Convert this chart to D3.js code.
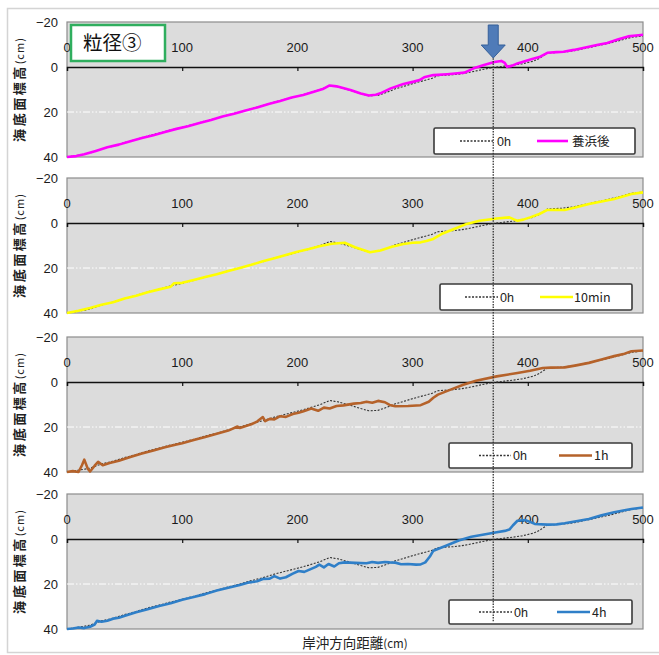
<!DOCTYPE html>
<html><head><meta charset="utf-8">
<script src="https://cdn.jsdelivr.net/npm/d3@7"></script>
<style>
body{margin:0;background:#fff;}
svg{display:block;font-family:"Liberation Sans",Arial,"Noto Sans CJK JP",sans-serif;}
</style></head>
<body><svg id="c" width="659" height="655"></svg>
<script>
// ---- data ----
const xTicks = [0,100,200,300,400,500];
const yTicks = [-20,0,20,40];
const panelSeriesNames = ["養浜後","10min","1h","4h"];
const seriesColors = ["#ff00ff","#ffff00","#b5622a","#2f7fc8"];

const initialX = [0,10,20,30,40,50,60,70,80,90,100,110,120,130,140,150,160,170,180,190,200,210,220,228,235,245,255,262,270,278,285,293,300,310,316,322,330,336,345,351,360,370,380,387,395,400,405,410,417,430,440,450,460,470,480,490,500];
const initialY = [40,39.2,38.3,36.4,35.2,33.6,32.2,30.6,29.4,28.0,26.8,25.5,24.0,22.8,21.3,20.0,18.5,17.2,15.6,14.3,13.0,11.6,10.0,8.2,8.8,10.2,11.8,12.8,12.6,11.2,9.7,8.5,7.4,6.0,5.2,3.9,3.6,3.4,2.8,2.2,1.2,0.2,-0.4,-0.8,-1.4,-2.0,-2.6,-3.8,-6.2,-6.6,-7.2,-8.3,-9.4,-10.5,-11.8,-13.2,-13.8];

const nourishX = [0,8,15,25,35,45,55,65,75,85,95,105,115,125,135,145,155,165,175,185,195,205,215,222,228,234,246,255,262,268,272,281,292,301,306,310,318,330,339,345,353,362,371,377,380,382,386,391,403,410,417,425,431,440,449,460,469,478,487,494,500];
const nourishY = [40,39.6,38.8,37.3,35.7,34.5,33.0,31.6,30.3,28.9,27.5,26.3,24.9,23.6,22.0,20.8,19.3,18.0,16.4,15.1,13.6,12.4,10.9,9.8,8.2,8.6,10.2,11.8,12.7,12.3,11.7,9.5,7.6,6.5,5.8,4.6,3.6,3.2,2.8,2.5,0.6,-0.9,-2.2,-2.7,-1.8,-0.1,-0.5,-1.6,-3.4,-4.4,-6.3,-6.6,-6.8,-7.6,-8.6,-9.8,-10.7,-12.2,-13.6,-14.0,-14.3];

const min10X = [0,10,20,30,40,50,60,70,80,90,93,100,110,120,130,140,150,160,170,180,190,200,210,220,230,241,250,263,272,282,292,300,307,312,318,325,336,347,358,373,384,388,391,396,402,410,417,425,432,442,453,464,475,484,490,500];
const min10Y = [40,39.0,37.8,36.3,35.2,33.6,32.3,30.8,29.5,28.3,26.8,26.6,25.3,24.0,22.8,21.3,20.0,18.6,17.0,15.7,14.2,12.8,11.6,10.2,9.2,8.8,10.8,13.0,12.2,10.6,9.3,8.8,8.6,8.0,7.1,4.9,2.7,0.4,-1.0,-2.0,-2.5,-1.6,-1.0,-1.5,-2.5,-4.0,-5.8,-5.9,-5.8,-7.0,-8.4,-9.6,-10.7,-12.0,-12.9,-13.6];

const h1X = [0,5,10,13,15,18,20,24,27,31,37,45,55,65,75,85,95,100,110,120,130,140,148,150,160,165,170,172,176,180,185,190,196,201,206,212,218,223,228,234,240,249,255,260,265,270,276,280,285,296,307,314,318,322,333,344,355,373,391,402,413,420,432,442,453,464,475,484,490,500];
const h1Y = [40,39.6,40.0,37.0,34.5,38.5,39.8,37.2,35.5,37.0,36.0,35.0,33.3,31.8,30.4,29.0,27.8,27.2,25.8,24.4,23.0,21.6,19.8,20.4,18.8,17.6,15.6,17.4,16.4,16.6,15.2,15.5,14.2,13.7,12.9,11.8,12.8,11.4,11.8,10.7,10.4,9.6,9.3,8.8,9.2,8.4,9.0,10.2,10.8,10.7,10.3,8.8,7.0,5.6,3.4,1.2,-0.6,-2.5,-4.0,-5.0,-6.2,-6.4,-6.5,-7.4,-8.5,-10.0,-11.5,-12.6,-13.7,-14.0];

const h4X = [0,5,10,15,20,24,26,30,35,40,45,51,60,70,80,90,100,110,120,130,140,150,157,165,170,176,180,185,190,196,201,206,212,216,219,223,227,232,236,241,250,260,265,270,276,280,285,290,296,303,307,311,315,318,329,340,351,362,373,380,384,387,391,398,403,406,417,425,432,442,453,464,475,484,490,500];
const h4Y = [40,39.8,39.3,39.6,39.0,38.0,36.4,36.8,36.3,35.4,35.0,34.0,32.6,31.2,29.8,28.6,27.0,25.8,24.5,22.9,21.7,20.4,19.4,18.8,17.8,17.6,16.5,17.6,17.0,15.4,14.2,14.6,13.3,12.4,11.4,12.6,11.1,12.2,10.8,10.4,10.6,10.8,10.2,10.6,10.2,10.4,10.5,11.2,11.1,11.4,11.3,10.4,7.8,5.2,3.0,0.7,-1.0,-2.0,-3.0,-3.6,-4.2,-6.0,-8.1,-8.4,-7.4,-6.7,-6.4,-6.5,-7.0,-7.9,-8.9,-10.5,-11.9,-12.8,-13.3,-14.0];

const markerX = 370;
const titleText = "粒径③";
const xTitle = "岸沖方向距離";
const yTitle = "海底面標高";

// ---- build ----
const seriesList = [
  d3.zip(nourishX, nourishY), d3.zip(min10X, min10Y), d3.zip(h1X, h1Y), d3.zip(h4X, h4Y)
];
const initial = d3.zip(initialX, initialY);

const svg = d3.select("#c");
const left = 67, right = 643;
const tops = [22, 178, 337, 494];
const ph = 135;
const legends = [
  {x:434,y:128,w:201,h:26, d0:460, d1:493, t0:497, c0:537, c1:568, t1:572},
  {x:440,y:284,w:192,h:26, d0:465, d1:498, t0:500, c0:540, c1:573, t1:574},
  {x:449,y:443,w:183,h:25, d0:479, d1:511, t0:513, c0:559, c1:592, t1:594},
  {x:449,y:600,w:183,h:24, d0:479, d1:512, t0:514, c0:557, c1:590, t1:592}
];

// outer frame
svg.append("rect").attr("x",7.5).attr("y",8.5).attr("width",700).attr("height",644)
  .attr("fill","none").attr("stroke","#d4d4d4").attr("stroke-width",1.5);

const x = d3.scaleLinear().domain([0,500]).range([left,right]);

tops.forEach((top,i)=>{
  const y = d3.scaleLinear().domain([-20,40]).range([top, top+ph]);
  const g = svg.append("g");
  g.append("rect").attr("x",left).attr("y",top).attr("width",right-left).attr("height",ph)
    .attr("fill","#dcdcdc").attr("stroke","#8c8c8c").attr("stroke-width",1.2);
  g.append("line").attr("x1",left).attr("x2",right).attr("y1",y(20)).attr("y2",y(20))
    .attr("stroke","#fff").attr("stroke-width",1).attr("stroke-dasharray","7,2,1.5,2,1.5,2");
  const ya = d3.axisLeft(y).tickValues(yTicks).tickSize(0).tickPadding(9)
    .tickFormat(d=> d<0 ? "\u221220" : d);
  const yg = g.append("g").attr("transform",`translate(${left},0)`).call(ya);
  yg.select(".domain").remove();
  yg.selectAll("text").attr("font-size",13).attr("fill","#1a1a1a").attr("font-family","Liberation Sans, Arial, sans-serif");
  const xa = d3.axisBottom(x).tickValues(xTicks).tickSize(4).tickFormat("");
  const xg = g.append("g").attr("transform",`translate(0,${y(0)})`).call(xa);
  xg.select(".domain").attr("stroke","#111").attr("stroke-width",1.3);
  xg.selectAll(".tick line").attr("stroke","#111").attr("stroke-width",1.2);
  g.selectAll(".xl").data(xTicks).enter().append("text")
    .attr("x",d=>x(d)).attr("y",y(0)-15).attr("text-anchor","middle")
    .attr("font-size",13).attr("fill","#1a1a1a").text(d=>d);
  const line = d3.line().x(d=>x(d[0])).y(d=>y(d[1]));
  g.append("path").datum(initial).attr("d",line).attr("fill","none")
    .attr("stroke","#333").attr("stroke-width",1.1).attr("stroke-dasharray","2,1.5");
  g.append("path").datum(seriesList[i]).attr("d",line).attr("fill","none")
    .attr("stroke",seriesColors[i]).attr("stroke-width",2.6).attr("stroke-linejoin","round");
  const L = legends[i];
  g.append("rect").attr("x",L.x).attr("y",L.y).attr("width",L.w).attr("height",L.h).attr("rx",1.5)
    .attr("fill","#fff").attr("stroke","#3a3a3a").attr("stroke-width",1.6);
  const ly = L.y + L.h/2;
  g.append("line").attr("x1",L.d0).attr("x2",L.d1).attr("y1",ly).attr("y2",ly)
    .attr("stroke","#333").attr("stroke-width",1.3).attr("stroke-dasharray","2,1.5");
  g.append("text").attr("x",L.t0).attr("y",ly+4.5).attr("font-size",12.5).attr("fill","#222").text("0h");
  g.append("line").attr("x1",L.c0).attr("x2",L.c1).attr("y1",ly).attr("y2",ly)
    .attr("stroke",seriesColors[i]).attr("stroke-width",2.6);
  g.append("text").attr("x",L.t1).attr("y",ly+4.5).attr("font-size",12.5).attr("fill","#222")
    .attr("font-family",'"Noto Sans CJK JP","Liberation Sans",sans-serif').text(panelSeriesNames[i]);
  g.append("text").attr("transform",`translate(24,${top+ph/2}) rotate(-90)`).attr("text-anchor","middle")
    .attr("font-size",13).attr("font-weight","bold").attr("fill","#222").attr("letter-spacing",2.5)
    .attr("font-family",'"Noto Sans CJK JP",sans-serif')
    .text(yTitle).append("tspan").attr("font-size",11).attr("font-weight","normal").attr("letter-spacing",1).text("(cm)");
});

const ax = x(markerX);
svg.append("line").attr("x1",ax).attr("x2",ax).attr("y1",42).attr("y2",622)
  .attr("stroke","#333").attr("stroke-width",1.3).attr("stroke-dasharray","1.5,1.2");

svg.append("path")
  .attr("d",`M${ax-5},25 L${ax+5},25 L${ax+5},45 L${ax+12},45 L${ax},58 L${ax-12},45 L${ax-5},45 Z`)
  .attr("fill","#4f7bb8").attr("stroke","#35609a").attr("stroke-width",1);

svg.append("rect").attr("x",71).attr("y",25).attr("width",94).attr("height",36)
  .attr("fill","#fff").attr("stroke","#2fae5e").attr("stroke-width",2.5);
svg.append("text").attr("x",83).attr("y",50).attr("font-size",19.5)
  .attr("font-family",'"Noto Sans CJK JP",sans-serif').attr("fill","#111").text(titleText);

svg.append("text").attr("x",355).attr("y",648).attr("text-anchor","middle").attr("font-size",13.5)
  .attr("font-family",'"Noto Sans CJK JP",sans-serif').attr("fill","#222")
  .text(xTitle).append("tspan").attr("font-size",11.5).text("(cm)");
</script></body></html>
